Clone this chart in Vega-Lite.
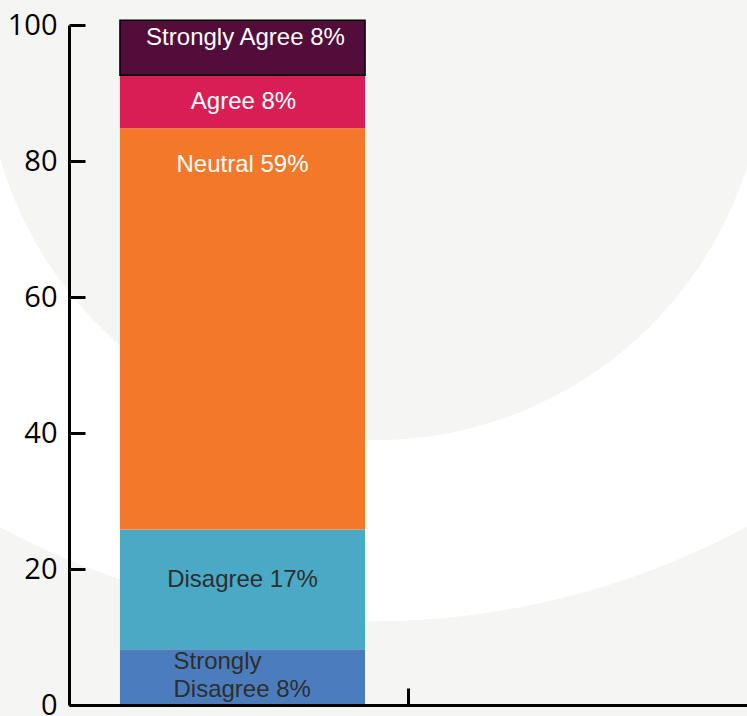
{
  "$schema": "https://vega.github.io/schema/vega-lite/v6.json",
  "width": 678,
  "height": 680,
  "autosize": {"type": "none"},
  "padding": {"left": 69, "top": 25, "right": 0, "bottom": 11},
  "background": "#f5f5f4",
  "config": {"view": {"stroke": null}, "font": "Liberation Sans"},
  "datasets": {
    "survey": [
      {"q": "Q", "response": "Strongly Disagree", "label": "Strongly\nDisagree 8%", "order": 1, "pct": 8.2},
      {"q": "Q", "response": "Disagree", "label": "Disagree 17%", "order": 2, "pct": 17.6},
      {"q": "Q", "response": "Neutral", "label": "Neutral 59%", "order": 3, "pct": 59.0},
      {"q": "Q", "response": "Agree", "label": "Agree 8%", "order": 4, "pct": 7.8},
      {"q": "Q", "response": "Strongly Agree", "label": "Strongly Agree 8%", "order": 5, "pct": 8.1}
    ]
  },
  "layer": [
    {
      "data": {"values": [{"shape": "outer"}]},
      "mark": {"type": "point", "shape": "circle", "filled": true, "opacity": 1, "size": 2477476, "color": "#ffffff", "strokeWidth": 0},
      "encoding": {
        "x": {"datum": 0.448, "type": "quantitative", "scale": {"domain": [0, 1], "nice": false, "zero": false}, "axis": null},
        "y": {"datum": 128.1, "type": "quantitative", "scale": {"domain": [0, 100], "nice": false}}
      }
    },
    {
      "data": {"values": [{"shape": "inner"}]},
      "mark": {"type": "point", "shape": "circle", "filled": true, "opacity": 1, "size": 608400, "color": "#f5f5f4", "strokeWidth": 0},
      "encoding": {
        "x": {"datum": 0.451, "type": "quantitative", "scale": {"domain": [0, 1], "nice": false, "zero": false}, "axis": null},
        "y": {"datum": 96.3, "type": "quantitative", "scale": {"domain": [0, 100], "nice": false}}
      }
    },
    {
      "data": {"name": "survey"},
      "transform": [
        {"stack": "pct", "groupby": ["q"], "sort": [{"field": "order", "order": "ascending"}], "as": ["y0", "y1"]}
      ],
      "encoding": {
        "x": {
          "field": "q", "type": "nominal",
          "scale": {"domain": ["Q", "R"], "paddingInner": 0, "paddingOuter": 0},
          "axis": {"title": null, "labels": false, "values": ["Q"], "tickOffset": 169.5, "tickSize": -17, "tickWidth": 3, "tickColor": "#000000", "domainColor": "#000000", "domainWidth": 3, "zindex": 1, "grid": false}
        }
      },
      "layer": [
        {
          "mark": {"type": "bar", "width": {"band": 0.723}, "xOffset": 4},
          "encoding": {
            "y": {
              "field": "y1", "type": "quantitative",
              "scale": {"domain": [0, 100], "nice": false},
              "axis": {"title": null, "values": [0, 20, 40, 60, 80, 100], "grid": false, "tickSize": -16, "tickWidth": 3, "tickColor": "#000000", "domainColor": "#000000", "domainWidth": 3, "labelFont": "Open Sans", "labelFontSize": 29, "labelColor": "#000000", "labelPadding": 28, "zindex": 1}
            },
            "y2": {"field": "y0"},
            "color": {
              "field": "response", "type": "nominal",
              "scale": {
                "domain": ["Strongly Disagree", "Disagree", "Neutral", "Agree", "Strongly Agree"],
                "range": ["#4b7dbd", "#4aa9c4", "#f47829", "#d91e56", "#530d3b"]
              },
              "legend": null
            },
            "stroke": {
              "condition": {"test": "datum.response == 'Strongly Agree'", "value": "#000000"},
              "value": null
            },
            "strokeWidth": {"value": 1.5}
          }
        },
        {
          "transform": [{"filter": "datum.response == 'Strongly Agree'"}],
          "mark": {"type": "text", "dx": 7, "dy": 18, "fontSize": 24, "color": "#ffffff", "baseline": "middle", "align": "center"},
          "encoding": {"y": {"field": "y1", "type": "quantitative"}, "text": {"field": "label"}}
        },
        {
          "transform": [{"filter": "datum.response == 'Agree'"}],
          "mark": {"type": "text", "dx": 5, "dy": 27, "fontSize": 24, "color": "#ffffff", "baseline": "middle", "align": "center"},
          "encoding": {"y": {"field": "y1", "type": "quantitative"}, "text": {"field": "label"}}
        },
        {
          "transform": [{"filter": "datum.response == 'Neutral'"}],
          "mark": {"type": "text", "dx": 4, "dy": 37, "fontSize": 24, "color": "#ffffff", "baseline": "middle", "align": "center"},
          "encoding": {"y": {"field": "y1", "type": "quantitative"}, "text": {"field": "label"}}
        },
        {
          "transform": [{"filter": "datum.response == 'Disagree'"}],
          "mark": {"type": "text", "dx": 4, "dy": 50, "fontSize": 24, "color": "#2e2e2e", "baseline": "middle", "align": "center"},
          "encoding": {"y": {"field": "y1", "type": "quantitative"}, "text": {"field": "label"}}
        },
        {
          "transform": [{"filter": "datum.response == 'Strongly Disagree'"}],
          "mark": {"type": "text", "dx": -65, "dy": 13, "fontSize": 24, "color": "#2e2e2e", "baseline": "middle", "align": "left", "lineBreak": "\n", "lineHeight": 28},
          "encoding": {"y": {"field": "y1", "type": "quantitative"}, "text": {"field": "label"}}
        }
      ]
    }
  ],
  "resolve": {"scale": {"x": "independent"}}
}
